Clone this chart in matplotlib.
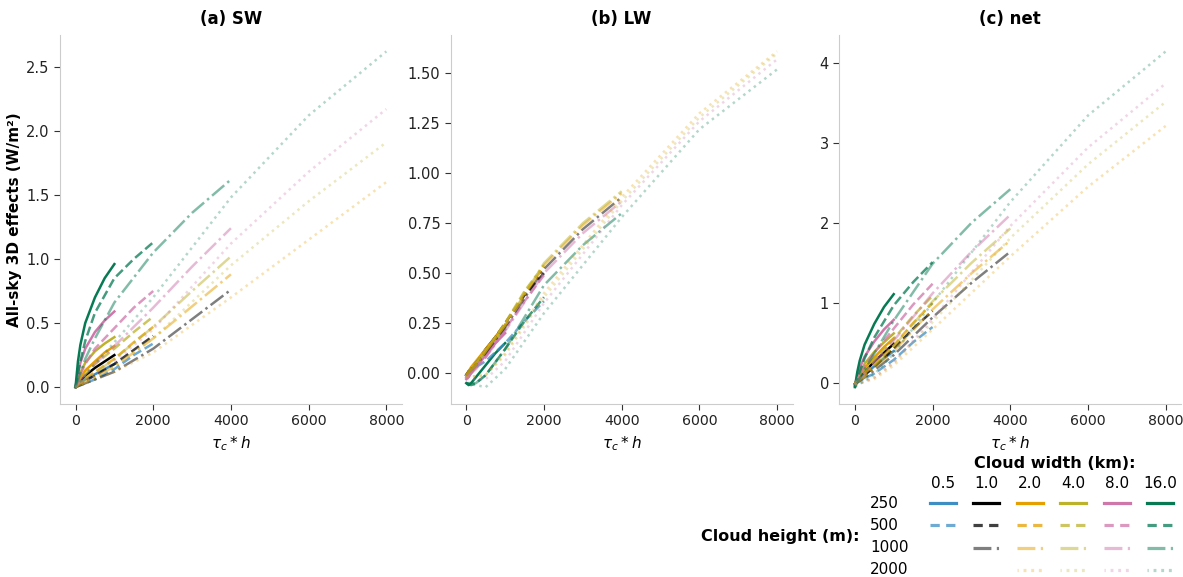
import numpy as np
import matplotlib.pyplot as plt

widths = [0.5, 1.0, 2.0, 4.0, 8.0, 16.0]
heights = [250, 500, 1000, 2000]
tau_c = [0, 0.25, 0.5, 1, 2, 3, 4]

# one row per cloud width (same order as `widths`), None = not simulated
sw_250 = [[0, 0.015, 0.03, 0.06, 0.10, 0.14, 0.18],
          [0, 0.025, 0.05, 0.09, 0.15, 0.20, 0.25],
          [0, 0.04, 0.07, 0.13, 0.20, 0.27, 0.32],
          [0, 0.06, 0.11, 0.19, 0.28, 0.34, 0.39],
          [0, 0.11, 0.19, 0.30, 0.43, 0.52, 0.59],
          [0, 0.20, 0.33, 0.50, 0.70, 0.85, 0.96]]
sw_500 = [[0, 0.015, 0.03, 0.06, 0.14, 0.25, 0.34],
          [0, 0.025, 0.05, 0.09, 0.18, 0.29, 0.40],
          [0, 0.035, 0.07, 0.12, 0.22, 0.35, 0.47],
          [0, 0.06, 0.10, 0.18, 0.30, 0.43, 0.55],
          [0, 0.10, 0.18, 0.30, 0.46, 0.62, 0.75],
          [0, 0.20, 0.36, 0.58, 0.85, 1.00, 1.13]]
sw_1000 = [None,
           [0, 0.03, 0.06, 0.12, 0.30, 0.53, 0.76],
           [0, 0.04, 0.08, 0.16, 0.38, 0.63, 0.88],
           [0, 0.06, 0.11, 0.22, 0.47, 0.75, 1.02],
           [0, 0.10, 0.18, 0.32, 0.62, 0.94, 1.24],
           [0, 0.22, 0.38, 0.66, 1.05, 1.36, 1.62]]
sw_2000 = [None, None,
           [0, 0.06, 0.12, 0.27, 0.70, 1.15, 1.60],
           [0, 0.08, 0.16, 0.38, 0.95, 1.45, 1.91],
           [0, 0.10, 0.20, 0.45, 1.12, 1.68, 2.17],
           [0, 0.18, 0.35, 0.70, 1.48, 2.12, 2.62]]

lw_250 = [[-0.01, 0.00, 0.02, 0.05, 0.11, 0.17, 0.22],
          [-0.01, 0.01, 0.02, 0.05, 0.12, 0.18, 0.24],
          [-0.01, 0.01, 0.03, 0.06, 0.12, 0.18, 0.24],
          [-0.02, 0.00, 0.02, 0.05, 0.11, 0.17, 0.23],
          [-0.03, -0.02, 0.00, 0.03, 0.09, 0.15, 0.20],
          [-0.05, -0.06, -0.05, -0.02, 0.04, 0.10, 0.15]]
lw_500 = [[-0.01, 0.01, 0.03, 0.06, 0.15, 0.26, 0.36],
          [-0.01, 0.02, 0.05, 0.11, 0.25, 0.39, 0.50],
          [-0.01, 0.02, 0.05, 0.11, 0.25, 0.40, 0.53],
          [-0.01, 0.02, 0.05, 0.11, 0.25, 0.41, 0.54],
          [-0.02, 0.00, 0.03, 0.08, 0.22, 0.36, 0.49],
          [-0.05, -0.06, -0.05, -0.01, 0.12, 0.26, 0.38]]
lw_1000 = [None,
           [-0.01, 0.04, 0.10, 0.23, 0.52, 0.72, 0.88],
           [-0.01, 0.04, 0.11, 0.24, 0.54, 0.74, 0.90],
           [-0.01, 0.04, 0.11, 0.24, 0.55, 0.75, 0.91],
           [-0.02, 0.02, 0.08, 0.21, 0.50, 0.70, 0.86],
           [-0.05, -0.05, -0.01, 0.12, 0.44, 0.64, 0.80]]
lw_2000 = [None, None,
           [-0.02, -0.01, 0.10, 0.40, 0.88, 1.30, 1.61],
           [-0.02, -0.01, 0.09, 0.38, 0.86, 1.28, 1.60],
           [-0.03, -0.03, 0.06, 0.35, 0.84, 1.26, 1.57],
           [-0.05, -0.07, 0.02, 0.30, 0.78, 1.22, 1.52]]

net_250 = [[-0.01, 0.015, 0.05, 0.11, 0.21, 0.31, 0.40],
           [-0.01, 0.035, 0.07, 0.14, 0.27, 0.38, 0.49],
           [-0.01, 0.05, 0.10, 0.19, 0.32, 0.45, 0.56],
           [-0.02, 0.06, 0.13, 0.24, 0.39, 0.51, 0.62],
           [-0.03, 0.09, 0.19, 0.33, 0.52, 0.67, 0.79],
           [-0.05, 0.14, 0.28, 0.48, 0.74, 0.95, 1.11]]
net_500 = [[-0.01, 0.025, 0.06, 0.12, 0.29, 0.51, 0.70],
           [-0.01, 0.045, 0.10, 0.20, 0.43, 0.68, 0.90],
           [-0.01, 0.055, 0.12, 0.23, 0.47, 0.75, 1.00],
           [-0.01, 0.08, 0.15, 0.29, 0.55, 0.84, 1.09],
           [-0.02, 0.10, 0.21, 0.38, 0.68, 0.98, 1.24],
           [-0.05, 0.14, 0.31, 0.57, 0.97, 1.26, 1.51]]
net_1000 = [None,
            [-0.01, 0.07, 0.16, 0.35, 0.82, 1.25, 1.64],
            [-0.01, 0.08, 0.19, 0.40, 0.92, 1.37, 1.78],
            [-0.01, 0.10, 0.22, 0.46, 1.02, 1.50, 1.93],
            [-0.02, 0.12, 0.26, 0.53, 1.12, 1.64, 2.10],
            [-0.05, 0.17, 0.37, 0.78, 1.49, 2.00, 2.42]]
net_2000 = [None, None,
            [-0.02, 0.05, 0.22, 0.67, 1.58, 2.45, 3.21],
            [-0.02, 0.07, 0.25, 0.76, 1.81, 2.73, 3.51],
            [-0.03, 0.07, 0.26, 0.80, 1.96, 2.94, 3.74],
            [-0.05, 0.11, 0.37, 1.00, 2.26, 3.34, 4.14]]

panels = [("(a) SW", [sw_250, sw_500, sw_1000, sw_2000]),
          ("(b) LW", [lw_250, lw_500, lw_1000, lw_2000]),
          ("(c) net", [net_250, net_500, net_1000, net_2000])]

colors = ["#3e8ec4", "#000000", "#e69f00", "#bdb22c", "#cf77ab", "#077a54"]
styles = ["-", "--", "-.", ":"]
alphas = [1.0, 0.75, 0.5, 0.3]
# shorter dash patterns so a full cycle fits inside the small legend swatches
key_styles = ["-", (0, (2.9, 2.0)), (0, (5.6, 1.7, 0.7, 1.7)), (0.5, (0.9, 1.5))]

plt.rcParams["font.family"] = "DejaVu Sans"
plt.rcParams["font.size"] = 10.5

fig = plt.figure(figsize=(11.83, 5.77), dpi=100)
lefts = [0.0507, 0.381, 0.7095]
axes = [fig.add_axes([l, 0.30, 0.289, 0.64]) for l in lefts]

for ax, (title, data) in zip(axes, panels):
    for hi, h in enumerate(heights):
        x = np.array(tau_c) * h
        for wi, row in enumerate(data[hi]):
            if row is None:
                continue
            ax.plot(x, row, color=colors[wi], ls=styles[hi], alpha=alphas[hi], lw=1.8)
    ax.set_title(title, fontweight="bold", fontsize=12, pad=8)
    ax.set_xlabel(r"$\tau_c * h$", fontsize=11)
    ax.set_xticks([0, 2000, 4000, 6000, 8000])
    for s in ["top", "right"]:
        ax.spines[s].set_visible(False)
    for s in ["left", "bottom"]:
        ax.spines[s].set_color("#cccccc")
    ax.tick_params(color="#333333", length=4, labelcolor="#222222")
    ax.tick_params(axis="x", labelsize=10.2)

axes[0].set_ylabel("All-sky 3D effects (W/m²)", fontweight="bold", fontsize=11, labelpad=3)

# legend grid: widths across, heights down
lax = fig.add_axes([0, 0, 1, 1], facecolor="none")
lax.set_xlim(0, 1183)
lax.set_ylim(577, 0)
lax.axis("off")
col_x = [943, 986, 1030, 1073, 1117, 1160]
row_y = [503, 525, 548, 570]
lax.text(1055, 463, "Cloud width (km):", fontweight="bold", fontsize=11.5,
         ha="center", va="center")
for cx, w in zip(col_x, widths):
    lax.text(cx, 484, f"{w:.1f}", ha="center", va="center", fontsize=11)
for ry, h in zip(row_y, heights):
    lax.text(870, ry, str(h), ha="left", va="center", fontsize=11)
lax.text(860, 537, "Cloud height (m):", fontweight="bold", fontsize=11.5,
         ha="right", va="center")
for hi in range(len(heights)):
    for wi in range(len(widths)):
        if panels[0][1][hi][wi] is None:
            continue
        lax.plot([col_x[wi] - 13, col_x[wi] + 13], [row_y[hi], row_y[hi]],
                 color=colors[wi], ls=key_styles[hi], alpha=alphas[hi], lw=2.3)

fig.savefig("out.png", dpi=100)
